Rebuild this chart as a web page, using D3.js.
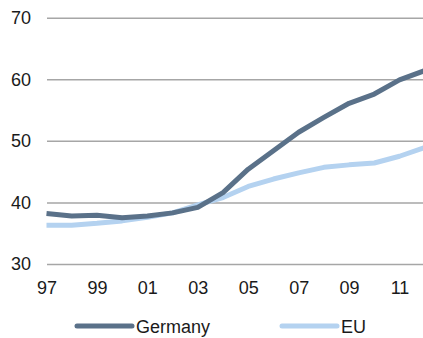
<!DOCTYPE html>
<html>
<head>
<meta charset="utf-8">
<script src="https://cdn.jsdelivr.net/npm/d3@7"></script>
<style>
  body { margin: 0; background: #fff; }
  svg { display: block; font-family: "Liberation Sans", Arial, sans-serif; }
</style>
</head>
<body>
<svg id="chart" width="423" height="338"></svg>
<script>
var years = [1997, 1998, 1999, 2000, 2001, 2002, 2003, 2004, 2005, 2006, 2007, 2008, 2009, 2010, 2011, 2012];
var germany = [38.2, 37.8, 37.9, 37.5, 37.8, 38.3, 39.2, 41.6, 45.4, 48.4, 51.4, 53.8, 56.1, 57.6, 59.9, 61.4];
var eu = [36.3, 36.3, 36.6, 37.0, 37.6, 38.3, 39.6, 40.8, 42.6, 43.8, 44.8, 45.7, 46.1, 46.4, 47.5, 48.9];
var xTicks = [1997, 1999, 2001, 2003, 2005, 2007, 2009, 2011];
var xLabels = ["97", "99", "01", "03", "05", "07", "09", "11"];
var yTicks = [30, 40, 50, 60, 70];
var seriesNames = ["Germany", "EU"];
var colors = ["#5a7189", "#b4d2f0"];

var svg = d3.select("#chart");
var left = 47, right = 423;

var x = d3.scaleLinear().domain([1997, 2011]).range([46.5, 399.5]);
var y = d3.scaleLinear().domain([30, 70]).range([264, 17.7]);

// gridlines + y labels
var yAxis = svg.append("g")
	.attr("transform", "translate(" + left + ",0)")
	.call(d3.axisLeft(y).tickValues(yTicks).tickSize(-(right - left)).tickPadding(16));
yAxis.select(".domain").remove();
yAxis.selectAll("line").attr("stroke", "#a6a6a6").attr("stroke-width", 1.5);
yAxis.selectAll("text")
	.attr("fill", "#1a1a1a")
	.style("font-size", "18px")
	.style("font-family", "Liberation Sans, Arial, sans-serif");

// x labels
var xAxis = svg.append("g")
	.attr("transform", "translate(0,264)")
	.call(d3.axisBottom(x).tickValues(xTicks).tickSize(0).tickPadding(17)
		.tickFormat(function(d, i) { return xLabels[i]; }));
xAxis.select(".domain").remove();
xAxis.selectAll("text")
	.attr("fill", "#1a1a1a")
	.style("font-size", "18px")
	.style("font-family", "Liberation Sans, Arial, sans-serif");

var line = d3.line()
	.x(function(d, i) { return x(years[i]); })
	.y(function(d) { return y(d); });

[eu, germany].forEach(function(s) {
	svg.append("path")
		.datum(s)
		.attr("fill", "none")
		.attr("stroke", s === eu ? colors[1] : colors[0])
		.attr("stroke-width", 5)
		.attr("stroke-linejoin", "round")
		.attr("d", line);
});

// legend (text kept inside the frame)
var legendX = [77, 282];
var legend = svg.append("g")
	.selectAll("g")
	.data(seriesNames)
	.enter().append("g")
	.attr("transform", function(d, i) { return "translate(" + legendX[i] + ",326)"; });

legend.append("line")
	.attr("x1", 0).attr("x2", 55)
	.attr("stroke", function(d, i) { return colors[i]; })
	.attr("stroke-width", 5)
	.attr("stroke-linecap", "round");

legend.append("text")
	.attr("x", 59)
	.attr("y", 7)
	.attr("fill", "#1a1a1a")
	.style("font-size", "18px")
	.text(function(d) { return d; });
</script>
</body>
</html>
